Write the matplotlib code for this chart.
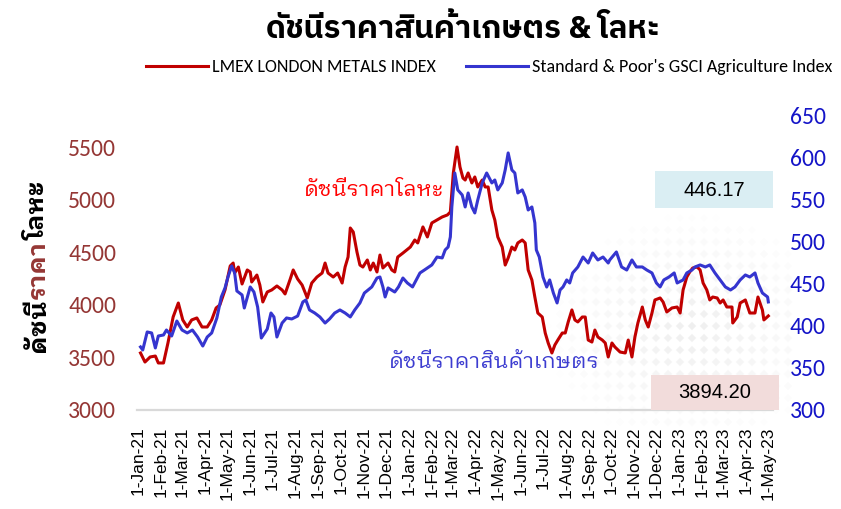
import numpy as np
import pandas as pd
import matplotlib
matplotlib.use("Agg")
import matplotlib.pyplot as plt
from matplotlib import font_manager
from matplotlib.ft2font import FT2Font
from matplotlib.patches import Rectangle

# LMEX London Metals Index (left axis)
metal_dates = [
    "2021-01-04", "2021-01-10", "2021-01-17", "2021-01-24", "2021-01-28", "2021-02-04", "2021-02-10",
    "2021-02-17", "2021-02-24", "2021-03-02", "2021-03-08", "2021-03-14", "2021-03-21", "2021-03-28",
    "2021-04-04", "2021-04-10", "2021-04-16", "2021-04-21", "2021-04-28", "2021-05-05", "2021-05-09",
    "2021-05-11", "2021-05-16", "2021-05-21", "2021-05-28", "2021-06-01", "2021-06-03", "2021-06-10",
    "2021-06-14", "2021-06-18", "2021-06-24", "2021-06-30", "2021-07-07", "2021-07-14", "2021-07-18",
    "2021-07-25", "2021-07-29", "2021-08-04", "2021-08-10", "2021-08-17", "2021-08-23", "2021-08-30",
    "2021-09-06", "2021-09-10", "2021-09-14", "2021-09-21", "2021-09-27", "2021-10-03", "2021-10-07",
    "2021-10-11", "2021-10-14", "2021-10-18", "2021-10-23", "2021-10-27", "2021-10-31", "2021-11-06",
    "2021-11-10", "2021-11-14", "2021-11-19", "2021-11-23", "2021-11-27", "2021-12-04", "2021-12-09",
    "2021-12-13", "2021-12-17", "2021-12-24", "2022-01-03", "2022-01-09", "2022-01-13", "2022-01-20",
    "2022-01-26", "2022-02-01", "2022-02-08", "2022-02-15", "2022-02-22", "2022-02-26", "2022-03-02",
    "2022-03-07", "2022-03-11", "2022-03-15", "2022-03-18", "2022-03-22", "2022-03-27", "2022-03-31",
    "2022-04-04", "2022-04-10", "2022-04-14", "2022-04-18", "2022-04-23", "2022-04-27", "2022-05-01",
    "2022-05-07", "2022-05-11", "2022-05-15", "2022-05-20", "2022-05-24", "2022-05-28", "2022-06-03",
    "2022-06-07", "2022-06-11", "2022-06-16", "2022-06-20", "2022-06-24", "2022-06-30", "2022-07-04",
    "2022-07-08", "2022-07-13", "2022-07-17", "2022-07-21", "2022-07-27", "2022-07-31", "2022-08-04",
    "2022-08-09", "2022-08-13", "2022-08-17", "2022-08-23", "2022-08-27", "2022-08-31", "2022-09-05",
    "2022-09-09", "2022-09-13", "2022-09-19", "2022-09-23", "2022-09-27", "2022-10-02", "2022-10-06",
    "2022-10-13", "2022-10-20", "2022-10-24", "2022-10-29", "2022-11-02", "2022-11-06", "2022-11-12",
    "2022-11-16", "2022-11-20", "2022-11-25", "2022-11-29", "2022-12-06", "2022-12-10", "2022-12-15",
    "2022-12-22", "2022-12-29", "2023-01-02", "2023-01-06", "2023-01-11", "2023-01-15", "2023-01-19",
    "2023-01-25", "2023-01-29", "2023-02-02", "2023-02-07", "2023-02-11", "2023-02-15", "2023-02-21",
    "2023-02-25", "2023-03-01", "2023-03-06", "2023-03-13", "2023-03-14", "2023-03-20", "2023-03-24",
    "2023-03-31", "2023-04-06", "2023-04-13", "2023-04-17", "2023-04-23", "2023-04-25", "2023-05-01",
]
metal_values = [
    3542, 3456, 3504, 3513, 3447, 3447, 3637,
    3884, 4017, 3856, 3789, 3856, 3875, 3789,
    3789, 3856, 3970, 3998, 4141, 4369, 4397,
    4302, 4359, 4198, 4331, 4312, 4217, 4283,
    4188, 4027, 4122, 4141, 4179, 4141, 4103,
    4245, 4331, 4245, 4188, 4065, 4207, 4264,
    4302, 4397, 4302, 4264, 4302, 4207, 4359,
    4454, 4730, 4692, 4502, 4378, 4359, 4426,
    4331, 4397, 4312, 4473, 4350, 4397, 4331,
    4312, 4454, 4492, 4549, 4616, 4588, 4740,
    4645, 4778, 4806, 4835, 4854, 4882, 5253,
    5500, 5310, 5205, 5186, 5253, 5158, 5215,
    5120, 5186, 5120, 5120, 4901, 4806, 4645,
    4549, 4378, 4445, 4549, 4521, 4588, 4616,
    4588, 4331, 4236, 4074, 3922, 3884, 3732,
    3637, 3542, 3618, 3665, 3732, 3732, 3837,
    3951, 3856, 3837, 3884, 3884, 3665, 3646,
    3760, 3694, 3665, 3637, 3504, 3637, 3599,
    3551, 3542, 3665, 3504, 3694, 3827, 3979,
    3856, 3789, 3922, 4046, 4065, 4027, 3932,
    3970, 3979, 3922, 4141, 4264, 4312, 4350,
    4359, 4331, 4207, 4141, 4046, 4074, 4065,
    4017, 4046, 3979, 3979, 3827, 3884, 4017,
    4046, 3922, 3922, 4074, 3951, 3856, 3894.20,
]

# S&P GSCI Agriculture Index (right axis)
agri_dates = [
    "2021-01-04", "2021-01-07", "2021-01-13", "2021-01-19", "2021-01-24", "2021-01-28", "2021-02-04",
    "2021-02-08", "2021-02-15", "2021-02-22", "2021-03-01", "2021-03-08", "2021-03-15", "2021-03-22",
    "2021-03-29", "2021-04-04", "2021-04-10", "2021-04-17", "2021-04-23", "2021-04-28", "2021-05-02",
    "2021-05-07", "2021-05-11", "2021-05-14", "2021-05-21", "2021-05-24", "2021-06-01", "2021-06-06",
    "2021-06-11", "2021-06-16", "2021-06-24", "2021-06-29", "2021-07-03", "2021-07-07", "2021-07-14",
    "2021-07-20", "2021-07-27", "2021-08-04", "2021-08-11", "2021-08-15", "2021-08-20", "2021-08-27",
    "2021-09-03", "2021-09-10", "2021-09-16", "2021-09-23", "2021-09-30", "2021-10-07", "2021-10-14",
    "2021-10-20", "2021-10-27", "2021-11-02", "2021-11-12", "2021-11-19", "2021-11-23", "2021-11-27",
    "2021-11-30", "2021-12-04", "2021-12-13", "2021-12-18", "2021-12-24", "2021-12-30", "2022-01-06",
    "2022-01-16", "2022-01-22", "2022-02-01", "2022-02-08", "2022-02-15", "2022-02-19", "2022-02-23",
    "2022-02-26", "2022-02-28", "2022-03-04", "2022-03-08", "2022-03-14", "2022-03-18", "2022-03-22",
    "2022-03-27", "2022-03-31", "2022-04-04", "2022-04-10", "2022-04-16", "2022-04-23", "2022-04-27",
    "2022-05-01", "2022-05-07", "2022-05-11", "2022-05-15", "2022-05-20", "2022-05-24", "2022-05-28",
    "2022-06-03", "2022-06-07", "2022-06-11", "2022-06-16", "2022-06-20", "2022-06-22", "2022-06-26",
    "2022-07-01", "2022-07-06", "2022-07-10", "2022-07-15", "2022-07-20", "2022-07-24", "2022-07-28",
    "2022-08-02", "2022-08-06", "2022-08-10", "2022-08-17", "2022-08-24", "2022-08-31", "2022-09-06",
    "2022-09-13", "2022-09-20", "2022-09-27", "2022-09-29", "2022-10-08", "2022-10-15", "2022-10-22",
    "2022-10-29", "2022-11-04", "2022-11-12", "2022-11-18", "2022-11-25", "2022-12-01", "2022-12-06",
    "2022-12-11", "2022-12-18", "2022-12-25", "2022-12-29", "2023-01-06", "2023-01-11", "2023-01-18",
    "2023-01-22", "2023-01-29", "2023-02-05", "2023-02-11", "2023-02-18", "2023-02-25", "2023-03-04",
    "2023-03-11", "2023-03-17", "2023-03-24", "2023-03-31", "2023-04-06", "2023-04-13", "2023-04-17",
    "2023-04-23", "2023-04-30", "2023-05-01",
]
agri_values = [
    374.8, 371.2, 392.6, 391.4, 373.6, 387.8, 389.0,
    394.9, 387.8, 405.6, 394.9, 391.4, 394.9, 386.6,
    375.9, 386.6, 391.4, 409.2, 434.1, 444.8, 457.8,
    470.9, 462.6, 441.2, 436.5, 421.0, 446.0, 440.0,
    422.2, 385.4, 396.1, 415.1, 410.4, 386.6, 403.2,
    409.2, 408.0, 411.5, 428.2, 430.5, 418.7, 415.1,
    410.4, 403.2, 408.0, 415.1, 418.7, 415.1, 410.4,
    418.7, 427.0, 438.8, 446.0, 456.6, 457.8, 446.0,
    434.1, 444.8, 440.0, 446.0, 456.6, 450.7, 446.0,
    462.6, 466.1, 472.1, 481.5, 480.4, 489.9, 493.4,
    505.3, 540.9, 581.2, 561.1, 555.1, 540.9, 557.5,
    540.9, 533.8, 549.2, 569.4, 581.2, 569.4, 572.9,
    561.1, 569.4, 584.8, 605.0, 584.8, 581.2, 557.5,
    561.1, 552.7, 537.3, 540.9, 521.9, 489.9, 481.5,
    457.8, 445.9, 454.3, 438.8, 427.0, 442.4, 446.0,
    454.3, 450.7, 462.6, 469.7, 481.5, 474.4, 486.3,
    478.0, 481.5, 474.4, 478.0, 487.5, 469.7, 466.1,
    478.0, 469.7, 469.7, 466.1, 462.6, 450.7, 446.0,
    454.3, 457.8, 462.6, 450.7, 454.3, 462.6, 466.1,
    469.7, 472.1, 469.7, 472.1, 462.6, 454.3, 446.0,
    442.4, 446.0, 454.3, 460.2, 457.8, 462.6, 450.7,
    438.8, 434.1, 428.2,
]

metal_ticks = [3000, 3500, 4000, 4500, 5000, 5500]
agri_ticks = [300, 350, 400, 450, 500, 550, 600, 650]
month_ticks = pd.date_range("2021-01-01", "2023-05-01", freq="MS")
month_labels = [f"1-{d:%b-%y}" for d in month_ticks]

title_text = "ดัชนีราคาสินค้าเกษตร & โลหะ"
metal_name = "LMEX LONDON METALS INDEX"
agri_name = "Standard & Poor's GSCI Agriculture Index"
metal_note = "ดัชนีราคาโลหะ"
agri_note = "ดัชนีราคาสินค้าเกษตร"
ylabel_parts = [("ดัชนี", "black"), ("ราคา", "#953735"), ("โลหะ", "black")]
agri_last_box = "446.17"
metal_last_box = "3894.20"

RED = "#C00000"
BLUE = "#3535CF"


def _weight(w):
    if isinstance(w, str):
        return font_manager.weight_dict.get(w, 400)
    return w


def _thai_fonts():
    found = {}
    for f in font_manager.fontManager.ttflist:
        if f.name not in found:
            try:
                if 0x0E14 not in FT2Font(f.fname).get_charmap():
                    continue
            except Exception:
                continue
            found[f.name] = []
        found[f.name].append(_weight(f.weight))
    return found


thai = _thai_fonts()
names = list(thai)
with_bold = [n for n in names if max(thai[n]) >= 600]
plain = [n for n in names if "Thai" in n and "Looped" not in n]
looped = [n for n in names if "Looped" in n]
THAI_BODY = looped[0] if looped else ((plain or names or ["DejaVu Sans"])[0])
bold_plain = [n for n in plain if n in with_bold]
THAI_TITLE = (bold_plain or with_bold or [THAI_BODY])[0]

LATIN = ["Carlito", "Lato", "DejaVu Sans"]
ARIAL = ["Liberation Sans", "Arial", "DejaVu Sans"]

m_dates = pd.to_datetime(metal_dates)
a_dates = pd.to_datetime(agri_dates)

fig = plt.figure(figsize=(8.41, 5.09), dpi=100)
W, H = 841, 509

# faint diamond pattern behind the plot
bg = fig.add_axes([0, 0, 1, 1], zorder=-5)
bg.set_xlim(0, W)
bg.set_ylim(H, 0)
bg.axis("off")
gx, gy = np.meshgrid(np.arange(476, 792, 12.0), np.arange(206, 428, 12.0))
fade = np.clip(1 - np.hypot((gx - 690) / 150, (gy - 330) / 120), 0, 1)
keep = fade > 0.05
bg.scatter(gx[keep], gy[keep], marker="D", s=18, c="#EBEBEB", alpha=fade[keep] * 0.8,
           linewidths=0)

ax = fig.add_axes([137 / W, 1 - 410 / H, (773 - 137) / W, 295 / H])
ax.patch.set_alpha(0)
ax2 = ax.twinx()

l1, = ax.plot(m_dates, metal_values, color=RED, lw=2.2)
l2, = ax2.plot(a_dates, agri_values, color=BLUE, lw=2.2)

start = pd.Timestamp("2021-01-01")
ax.set_xlim(start - pd.Timedelta(hours=42), start + pd.Timedelta(days=856.3))
ax.set_ylim(3000, 3000 + 295 * 500 / 52.6)
ax2.set_ylim(300, 650)

for a in (ax, ax2):
    for s in a.spines.values():
        s.set_visible(False)
    a.tick_params(length=0)
ax.spines["bottom"].set_visible(True)
ax.spines["bottom"].set_color("#D9D9D9")
ax.spines["bottom"].set_linewidth(1.6)

ax.set_yticks(metal_ticks)
ax.set_yticklabels([str(v) for v in metal_ticks], color="#953735", fontsize=17, family=LATIN)
ax.tick_params(axis="y", pad=15)
ax2.set_yticks(agri_ticks)
ax2.set_yticklabels([str(v) for v in agri_ticks], color="#1515C8", fontsize=17, family=LATIN)
ax2.tick_params(axis="y", pad=12)

ax.set_xticks(month_ticks)
ax.set_xticklabels(month_labels, rotation=90, fontsize=12.5, family=ARIAL)
ax.tick_params(axis="x", pad=12)

# title and legend
fig.text(463 / W, 1 - 29 / H, title_text, ha="center", va="center", fontsize=22.5,
         fontweight="bold", family=[THAI_TITLE, "DejaVu Sans"])
fig.legend([l1, l2], [metal_name, agri_name], loc="center", bbox_to_anchor=(489 / W, 1 - 67 / H),
           ncol=2, frameon=False, handlelength=3.4, handletextpad=0.22, columnspacing=1.7,
           borderpad=0, prop={"family": LATIN, "size": 13})

# series notes inside the plot
fig.text(374 / W, 1 - 190 / H, metal_note, ha="center", va="center", fontsize=15.5,
         color="#FF0000", family=[THAI_BODY, "DejaVu Sans"])
fig.text(494 / W, 1 - 362 / H, agri_note, ha="center", va="center", fontsize=15.5,
         color="#3C3CD0", family=[THAI_BODY, "DejaVu Sans"])

# latest-value boxes
fig.patches.append(Rectangle((655 / W, 1 - 208 / H), 118 / W, 37 / H, transform=fig.transFigure,
                             facecolor="#DAEEF3", edgecolor="none", zorder=0))
fig.text(714 / W, 1 - 190 / H, agri_last_box, ha="center", va="center", fontsize=14.5, family=ARIAL)
fig.patches.append(Rectangle((651 / W, 1 - 410 / H), 128 / W, 35 / H, transform=fig.transFigure,
                             facecolor="#F2DCDB", edgecolor="none", zorder=0))
fig.text(715 / W, 1 - 392 / H, metal_last_box, ha="center", va="center", fontsize=14.5, family=ARIAL)

# two-colour rotated axis title, stacked piece by piece
renderer = fig.canvas.get_renderer()
y_px = 352.0
for piece, col in ylabel_parts:
    t = fig.text(45 / W, 1 - y_px / H, piece, rotation=90, rotation_mode="anchor",
                 ha="left", va="baseline", fontsize=18, fontweight="bold", color=col,
                 family=[THAI_BODY, "DejaVu Sans"])
    ext = t.get_window_extent(renderer)
    y_px -= ext.height

fig.savefig("out.png", dpi=100, facecolor="white")
